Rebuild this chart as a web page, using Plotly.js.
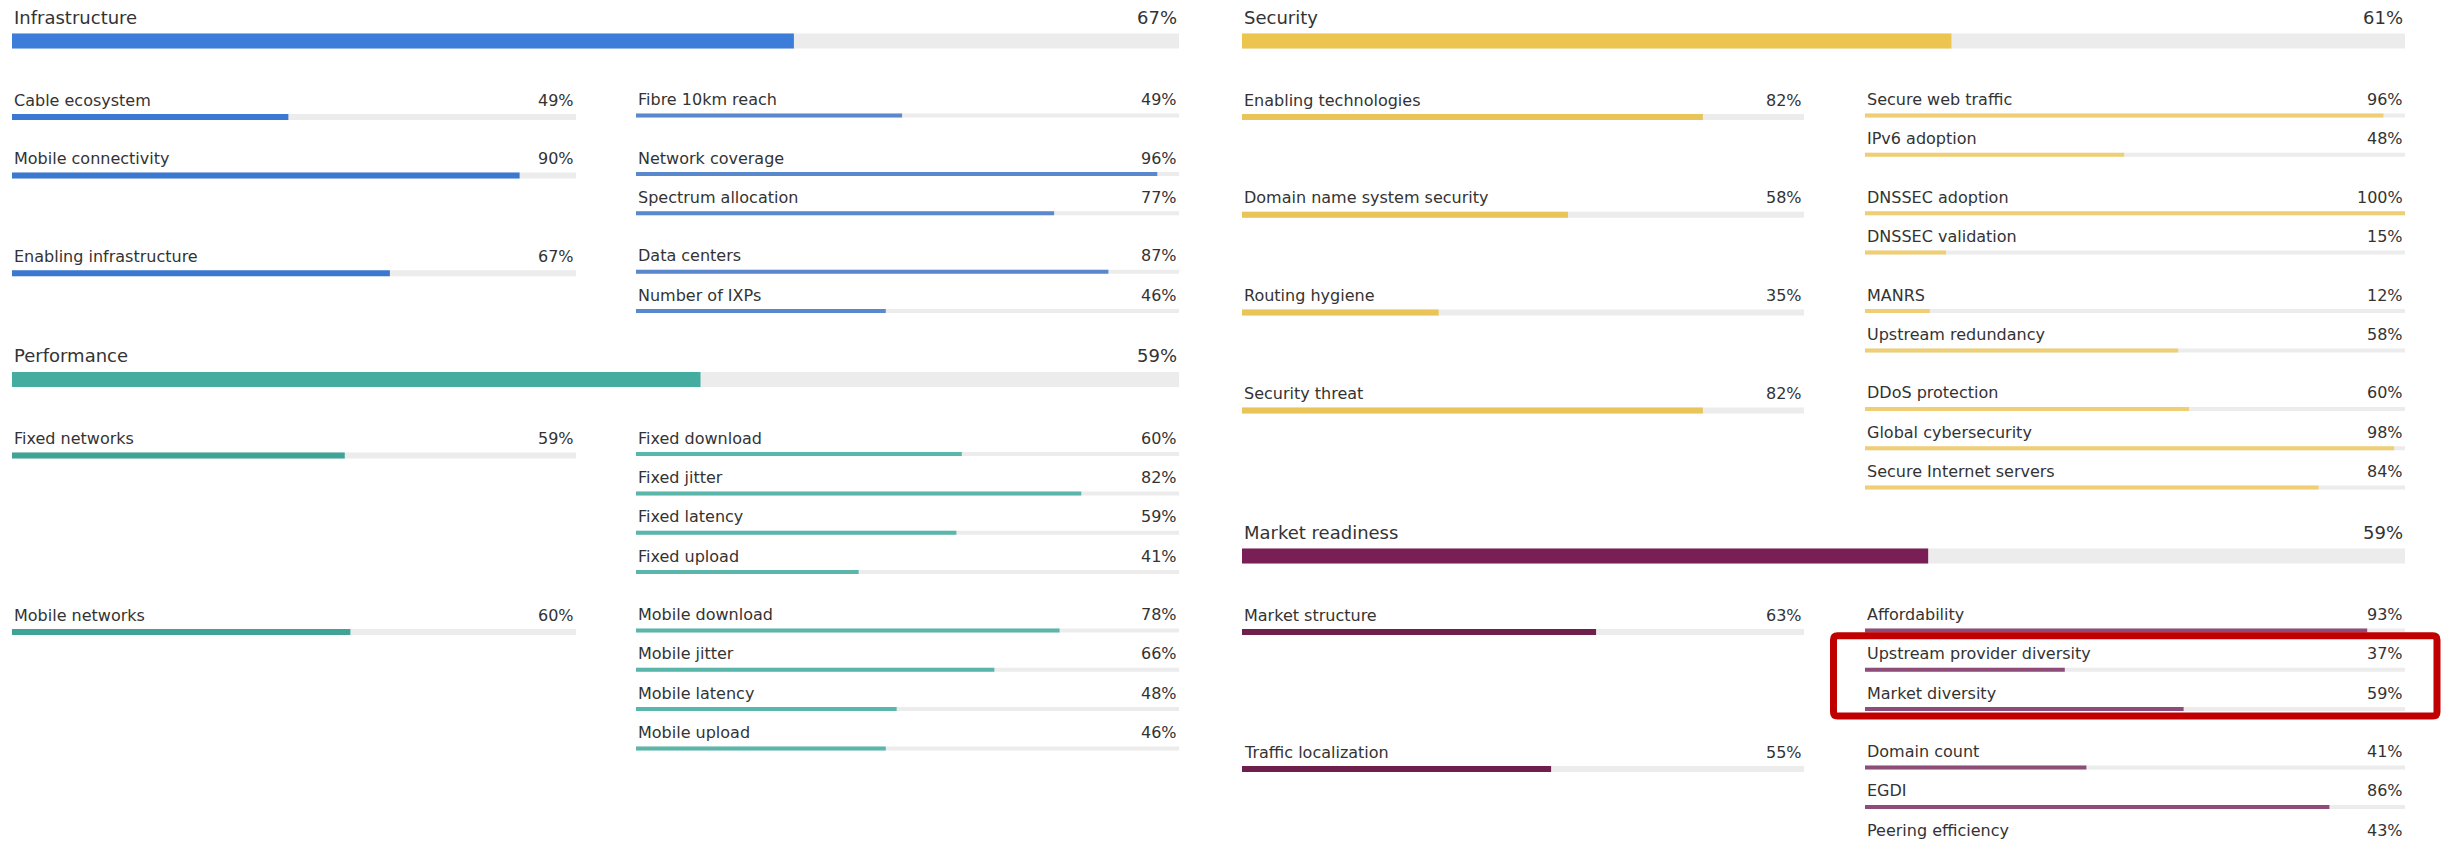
<!DOCTYPE html>
<html>
<head>
<meta charset="utf-8">
<script src="https://cdn.plot.ly/plotly-3.0.1.min.js"></script>
<style>html,body{margin:0;padding:0;background:#fff;}#chart{width:2443px;height:843px;}</style>
</head>
<body>
<div id="chart"></div>
<script>
// ---------- DATA ----------
const pillars = ['Infrastructure', 'Performance', 'Security', 'Market readiness'];
const pillarValues = [67, 59, 61, 59];

const infraSubs = ['Cable ecosystem', 'Mobile connectivity', 'Enabling infrastructure'];
const infraSubValues = [49, 90, 67];
const infraIndicators = [['Fibre 10km reach'], ['Network coverage', 'Spectrum allocation'], ['Data centers', 'Number of IXPs']];
const infraIndicatorValues = [[49], [96, 77], [87, 46]];

const perfSubs = ['Fixed networks', 'Mobile networks'];
const perfSubValues = [59, 60];
const perfIndicators = [['Fixed download', 'Fixed jitter', 'Fixed latency', 'Fixed upload'], ['Mobile download', 'Mobile jitter', 'Mobile latency', 'Mobile upload']];
const perfIndicatorValues = [[60, 82, 59, 41], [78, 66, 48, 46]];

const secSubs = ['Enabling technologies', 'Domain name system security', 'Routing hygiene', 'Security threat'];
const secSubValues = [82, 58, 35, 82];
const secIndicators = [['Secure web traffic', 'IPv6 adoption'], ['DNSSEC adoption', 'DNSSEC validation'], ['MANRS', 'Upstream redundancy'], ['DDoS protection', 'Global cybersecurity', 'Secure Internet servers']];
const secIndicatorValues = [[96, 48], [100, 15], [12, 58], [60, 98, 84]];

const mktSubs = ['Market structure', 'Traffic localization'];
const mktSubValues = [63, 55];
const mktIndicators = [['Affordability', 'Upstream provider diversity', 'Market diversity'], ['Domain count', 'EGDI', 'Peering efficiency']];
const mktIndicatorValues = [[93, 37, 59], [41, 86, 43]];

const highlighted = ['Upstream provider diversity', 'Market diversity'];

// ---------- STYLE / LAYOUT ----------
const W = 2443, H = 843;
const FONT = 'DejaVu Sans, Verdana, sans-serif';
const TEXT = '#333333';
const TRACK = '#ececec';
const STEP = 39.3, GAP = 58.5, MAIN_TO_FIRST = 76, SECTION_GAP = 67, TOP = 41;
const MAIN_W = 15, SUB_W = 6, IND_W = 4;

const palette = {
  'Infrastructure': {main: '#3b7dd8', sub: '#3a78d2', ind: '#5a88cc'},
  'Performance': {main: '#45ada0', sub: '#3fa396', ind: '#5ab6ab'},
  'Security': {main: '#ecc54e', sub: '#e9c459', ind: '#f0cf74'},
  'Market readiness': {main: '#7a1f55', sub: '#6e1f4c', ind: '#8d4d78'}
};

// columns in px: [main axis, sub axis, indicator axis]
const columns = [
  {main: [12, 1179], sub: [12, 576], ind: [636, 1179], axes: ['x', 'x2', 'x3'], sections: [0, 1]},
  {main: [1242, 2405], sub: [1242, 1804], ind: [1865, 2405], axes: ['x4', 'x5', 'x6'], sections: [2, 3]}
];

const sectionData = [
  [infraSubs, infraSubValues, infraIndicators, infraIndicatorValues],
  [perfSubs, perfSubValues, perfIndicators, perfIndicatorValues],
  [secSubs, secSubValues, secIndicators, secIndicatorValues],
  [mktSubs, mktSubValues, mktIndicators, mktIndicatorValues]
];

const traces = [];
const annotations = [];
const shapes = [];
const layout = {
  width: W, height: H,
  margin: {l: 0, r: 0, t: 0, b: 0},
  paper_bgcolor: '#ffffff', plot_bgcolor: 'rgba(0,0,0,0)',
  showlegend: false,
  barmode: 'overlay',
  hovermode: false,
  font: {family: FONT, color: TEXT},
  yaxis: {range: [H, 0], domain: [0, 1], visible: false, fixedrange: true}
};

function axisKey(a) { return a === 'x' ? 'xaxis' : 'xaxis' + a.slice(1); }

function addBars(axis, ys, vals, widths, colors) {
  traces.push({type: 'bar', orientation: 'h', xaxis: axis, yaxis: 'y',
    x: ys.map(() => 100), y: ys, width: widths, base: 0,
    marker: {color: TRACK, line: {width: 0}}, hoverinfo: 'skip'});
  traces.push({type: 'bar', orientation: 'h', xaxis: axis, yaxis: 'y',
    x: vals, y: ys, width: widths, base: 0,
    marker: {color: colors, line: {width: 0}}, hoverinfo: 'skip'});
}

function addLabel(axis, y, label, value, size) {
  annotations.push({xref: axis, yref: 'y', x: 0, y: y, text: label, showarrow: false,
    xanchor: 'left', yanchor: 'middle', font: {size: size, color: TEXT, family: FONT}});
  annotations.push({xref: axis, yref: 'y', x: 100, y: y, text: value + '%', showarrow: false,
    xanchor: 'right', yanchor: 'middle', font: {size: size, color: TEXT, family: FONT}});
}

const hlRows = [];

columns.forEach(col => {
  ['main', 'sub', 'ind'].forEach((k, i) => {
    layout[axisKey(col.axes[i])] = {domain: [col[k][0] / W, col[k][1] / W], range: [0, 100],
      anchor: 'y', visible: false, fixedrange: true};
  });
  let y = TOP;
  const mainY = [], mainV = [], mainC = [];
  const subY = [], subV = [], subC = [];
  const indY = [], indV = [], indC = [];
  col.sections.forEach(si => {
    const name = pillars[si];
    const pal = palette[name];
    const [subs, subVals, inds, indVals] = sectionData[si];
    mainY.push(y); mainV.push(pillarValues[si]); mainC.push(pal.main);
    addLabel(col.axes[0], y - 24, name, pillarValues[si], 18);
    let row = y + MAIN_TO_FIRST;
    let last = row;
    subs.forEach((s, gi) => {
      subY.push(row); subV.push(subVals[gi]); subC.push(pal.sub);
      addLabel(col.axes[1], row - 17, s, subVals[gi], 16);
      inds[gi].forEach((ind, k) => {
        const iy = row - 1.5 + k * STEP;
        indY.push(iy); indV.push(indVals[gi][k]); indC.push(pal.ind);
        addLabel(col.axes[2], iy - 16, ind, indVals[gi][k], 16);
        if (highlighted.includes(ind)) hlRows.push({y: iy, col: col});
        last = iy + 1.5;
      });
      row = last + GAP;
    });
    y = last + SECTION_GAP;
  });
  addBars(col.axes[0], mainY, mainV, mainY.map(() => MAIN_W), mainC);
  addBars(col.axes[1], subY, subV, subY.map(() => SUB_W), subC);
  addBars(col.axes[2], indY, indV, indY.map(() => IND_W), indC);
});

// highlight box around the highlighted indicator rows
if (hlRows.length) {
  const c = hlRows[0].col;
  const x0 = (c.ind[0] - 31.5) / W, x1 = (c.ind[1] + 32) / W;
  const ys = hlRows.map(r => r.y);
  const y0 = Math.min(...ys) - 34, y1 = Math.max(...ys) + 7;
  const r = 4, rx = r / W;
  const path = `M ${x0 + rx} ${y0} L ${x1 - rx} ${y0} Q ${x1} ${y0} ${x1} ${y0 + r} L ${x1} ${y1 - r} Q ${x1} ${y1} ${x1 - rx} ${y1} L ${x0 + rx} ${y1} Q ${x0} ${y1} ${x0} ${y1 - r} L ${x0} ${y0 + r} Q ${x0} ${y0} ${x0 + rx} ${y0} Z`;
  shapes.push({type: 'path', xref: 'paper', yref: 'y', path: path,
    line: {color: '#c00000', width: 7}, fillcolor: 'rgba(0,0,0,0)', layer: 'above'});
}

layout.annotations = annotations;
layout.shapes = shapes;

Plotly.newPlot('chart', traces, layout, {staticPlot: true, displayModeBar: false});
</script>
</body>
</html>
